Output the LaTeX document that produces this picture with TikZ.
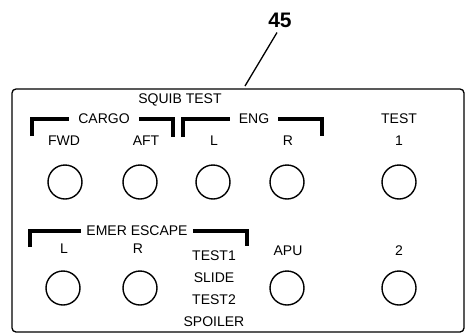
\documentclass[tikz,border=0pt]{standalone}
\usepackage{fontspec}
\setmainfont{Liberation Sans}
\usetikzlibrary{positioning}
\begin{document}
\begin{tikzpicture}[x=1pt, y=-1pt, font=\fontsize{14}{16}\selectfont]
\tikzstyle{lbl}=[inner sep=0pt]
\tikzstyle{ttl}=[inner ysep=0pt, inner xsep=9pt]
\tikzstyle{knob}=[circle, draw, line width=1.4pt, minimum size=34pt, inner sep=0pt]
\tikzstyle{brk}=[line width=3.2pt]
\useasboundingbox (0,0) rectangle (466,335);
% panel
\draw[line width=1.3pt, rounded corners=4pt] (12,89) rectangle (464,332);
\node[lbl, font=\fontsize{21}{23}\selectfont\bfseries] (ref) at (280,20) {45};
\coordinate (tip) at (245,86);
\draw[line width=1.3pt] (ref.south) ++(-3,5) coordinate (from) (from) -- (tip);
% top row
\node[lbl] (squib) at (180,100) {SQUIB TEST};
\node[ttl] (cargo) at (104,119) {CARGO};
\node[ttl] (eng) at (254,119) {ENG};
\node[lbl] (test) at (399,119) {TEST};
\coordinate (cargoL) at (32,136);
\coordinate (cargoR) at (173,137);
\coordinate (engL) at (183,137);
\coordinate (engR) at (322,136);
\draw[brk] (cargoL) |- (cargo.west);
\draw[brk] (cargo.east) -| (cargoR);
\draw[brk] (engL) |- (eng.west);
\draw[brk] (eng.east) -| (engR);
\node[lbl] (fwd) at (64,141) {FWD};
\node[lbl] (aft) at (146,141) {AFT};
\node[lbl] (engl) at (214,141) {L};
\node[lbl] (engr) at (288,141) {R};
\node[lbl] (one) at (399,141) {1};
\node[knob] (kfwd) at (65,182) {};
\node[knob] (kaft) at (140,182) {};
\node[knob] (kengl) at (213,182) {};
\node[knob] (kengr) at (287,182) {};
\node[knob] (kone) at (399,182) {};
% bottom row
\node[ttl, inner xsep=5pt] (emer) at (137,231) {EMER ESCAPE};
\coordinate (emerL) at (30,247);
\coordinate (emerR) at (247,246);
\draw[brk] (emerL) |- (emer.west);
\draw[brk] (emer.east) -| (emerR);
\node[lbl] (escl) at (64,249) {L};
\node[lbl] (escr) at (138,249) {R};
\node[lbl, align=center, font=\fontsize{14}{22}\selectfont, anchor=north] (slide) at (214,251) {TEST1\\SLIDE\\TEST2\\SPOILER};
\node[lbl] (apu) at (288,251) {APU};
\node[lbl] (two) at (399,251) {2};
\node[knob] (kescl) at (63,288) {};
\node[knob] (kescr) at (140,288) {};
\node[knob] (kapu) at (287,288) {};
\node[knob] (ktwo) at (399,288) {};
\end{tikzpicture}
\end{document}
